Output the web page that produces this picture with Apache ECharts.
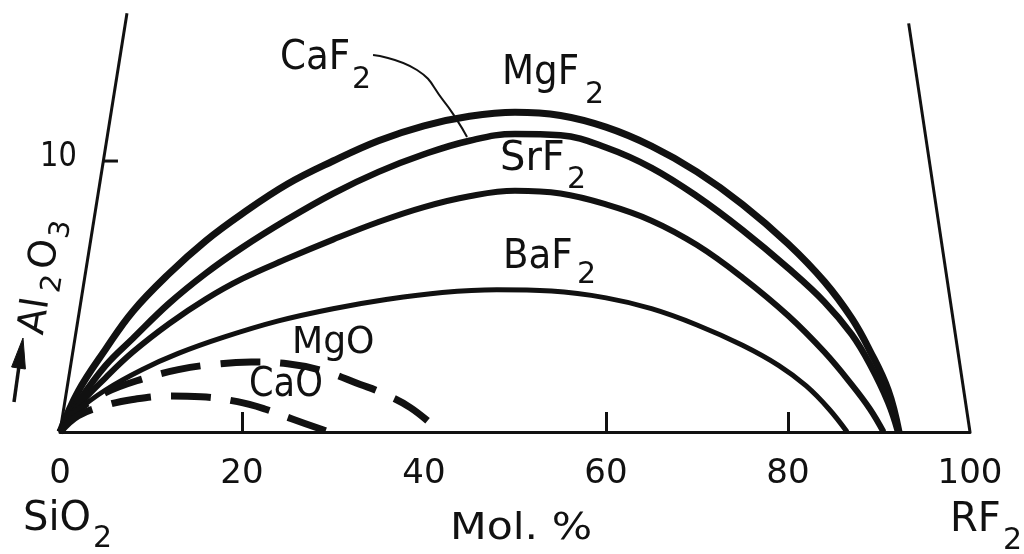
<!DOCTYPE html>
<html>
<head>
<meta charset="utf-8">
<script src="https://cdn.jsdelivr.net/npm/echarts@6/dist/echarts.min.js"></script>
<style>
html,body{margin:0;padding:0;background:#fff;}
#c{width:1024px;height:554px;}
</style>
</head>
<body>
<div id="c"></div>
<script>
// x: Mol. % RF2 (0 = SiO2, 100 = RF2); y: Al2O3
const xTickLabels = [0, 20, 40, 60, 80, 100];
const xTickMarks = [20, 60, 80];
const yTickValue = 10;

const mgF2 = [[0,0],[2,1.5],[5,3.05],[8,4.45],[12,5.85],[16,7.05],[20,8.05],[25,9.15],[30,10.0],[35,10.75],[40,11.3],[45,11.65],[50,11.8],[55,11.68],[60,11.25],[65,10.55],[70,9.6],[75,8.4],[80,6.95],[84,5.55],[87,4.2],[89,3.0],[91,1.55],[92.2,0]];
const caF2 = [[0,0],[2,1.1],[5,2.45],[8,3.45],[12,4.75],[16,5.85],[20,6.8],[25,7.85],[30,8.8],[35,9.6],[40,10.25],[45,10.75],[50,11.0],[55,10.95],[60,10.5],[65,9.75],[70,8.7],[75,7.45],[80,6.05],[84,4.8],[87,3.6],[89,2.5],[91,1.1],[92.1,0]];
const srF2 = [[0,0],[2,0.95],[5,2.0],[8,2.95],[12,4.0],[16,4.9],[20,5.65],[25,6.4],[30,7.1],[35,7.75],[40,8.3],[45,8.7],[50,8.9],[55,8.8],[60,8.4],[65,7.8],[70,6.9],[75,5.7],[80,4.3],[84,2.95],[87,1.75],[89,0.85],[90.5,0]];
const baF2 = [[0,0],[2,0.8],[5,1.55],[9,2.3],[13,2.9],[18,3.5],[24,4.1],[30,4.55],[36,4.9],[42,5.15],[48,5.25],[54,5.2],[60,4.95],[65,4.55],[70,3.95],[75,3.2],[79,2.45],[82,1.7],[84.5,0.85],[86.5,0]];
const mgO = [[0,0],[2,0.8],[5,1.45],[9,1.95],[13,2.3],[17,2.5],[21,2.58],[25,2.52],[29,2.25],[33,1.75],[35,1.5],[38.5,0.9],[41.8,0]];
const caO = [[0,0],[2,0.6],[5,0.98],[8,1.2],[12,1.33],[15.5,1.3],[19.5,1.12],[22.5,0.85],[25.6,0.47],[29.6,0]];

// frame of the section (slanted Al2O3 edges) and the leader of the CaF2 label
const leftEdge = [[0,0],[7.36,15.45]];
const rightEdge = [[100,0],[93.26,15.08]];
const yTick = [[4.73,yTickValue],[6.37,yTickValue]];
const caF2Leader = [[34.4,13.91],[39.23,13.36],[42.09,12.25],[43.63,11.51],[44.73,10.89]];

const INK = '#111';
const FONT = '"DejaVu Sans", sans-serif';

function line(name, data, width, dashed, smooth) {
  return {
    name: name, type: 'line', data: data, symbol: 'none', showSymbol: false,
    smooth: smooth, clip: false, silent: true, z: 3,
    lineStyle: { color: INK, width: width, type: dashed ? [40, 20] : 'solid', cap: 'butt', join: 'round' }
  };
}

function lbl(text, x, y, size, sx) {
  return {
    type: 'text', x: x, y: y, scaleX: sx || 1, silent: true,
    style: { text: text, font: size + 'px ' + FONT, fill: INK, align: 'left', verticalAlign: 'middle', textAlign: 'left', textVerticalAlign: 'middle' }
  };
}

const chart = echarts.init(document.getElementById('c'), null, { renderer: 'canvas' });
chart.setOption({
  animation: false,
  backgroundColor: '#fff',
  grid: { left: 60, right: 54, top: 12, bottom: 122, containLabel: false },
  xAxis: {
    type: 'value', min: 0, max: 100, interval: 20,
    splitLine: { show: false },
    axisLine: { show: true, lineStyle: { color: INK, width: 3 } },
    axisTick: { show: true, inside: true, length: 20, lineStyle: { color: INK, width: 3 }, customValues: xTickMarks },
    axisLabel: { show: true, color: INK, fontSize: 34, fontFamily: FONT, margin: 25, showMinLabel: true, showMaxLabel: true, customValues: xTickLabels }
  },
  yAxis: { type: 'value', min: 0, max: 15.5, show: false },
  series: [
    line('left', leftEdge, 3, false, false),
    line('right', rightEdge, 3, false, false),
    line('tick10', yTick, 3, false, false),
    line('MgF2', mgF2, 7, false, 0.4),
    line('CaF2', caF2, 6.5, false, 0.4),
    line('SrF2', srF2, 6, false, 0.4),
    line('BaF2', baF2, 5, false, 0.4),
    line('MgO', mgO, 7, true, 0.4),
    line('CaO', caO, 7, true, 0.4),
    line('leader', caF2Leader, 2, false, 0.5)
  ],
  graphic: [
    lbl('CaF', 280, 59, 40, 0.93), lbl('2', 352, 80, 30),
    lbl('MgF', 502, 74, 40, 0.93), lbl('2', 585, 95, 30),
    lbl('SrF', 500, 160, 40, 1.0), lbl('2', 567, 180, 30),
    lbl('BaF', 503, 258, 40, 0.93), lbl('2', 577, 275, 30),
    lbl('MgO', 292, 343, 38, 0.95),
    lbl('CaO', 249, 386, 40, 0.88),
    lbl('10', 40, 157, 34, 0.85),
    lbl('SiO', 23, 520, 40, 1.0), lbl('2', 93, 539, 30),
    lbl('Mol. %', 450, 529, 38, 1.12),
    lbl('RF', 950, 521, 40, 1.0), lbl('2', 1003, 541, 30),
    {
      type: 'group', x: 31, y: 334, rotation: 81 * Math.PI / 180, silent: true,
      children: [
        lbl('Al', 0, 2, 38, 1.0), lbl('2', 44, 14, 28),
        lbl('O', 66, 2, 38, 1.0), lbl('3', 99, 14, 28)
      ]
    },
    { type: 'polyline', silent: true, shape: { points: [[14, 402], [19, 366]] }, style: { stroke: INK, lineWidth: 3.5, fill: null } },
    { type: 'polygon', silent: true, shape: { points: [[23, 338], [11.6, 367], [25.4, 369]] }, style: { fill: INK, stroke: INK, lineWidth: 1 } }
  ]
});
</script>
</body>
</html>
